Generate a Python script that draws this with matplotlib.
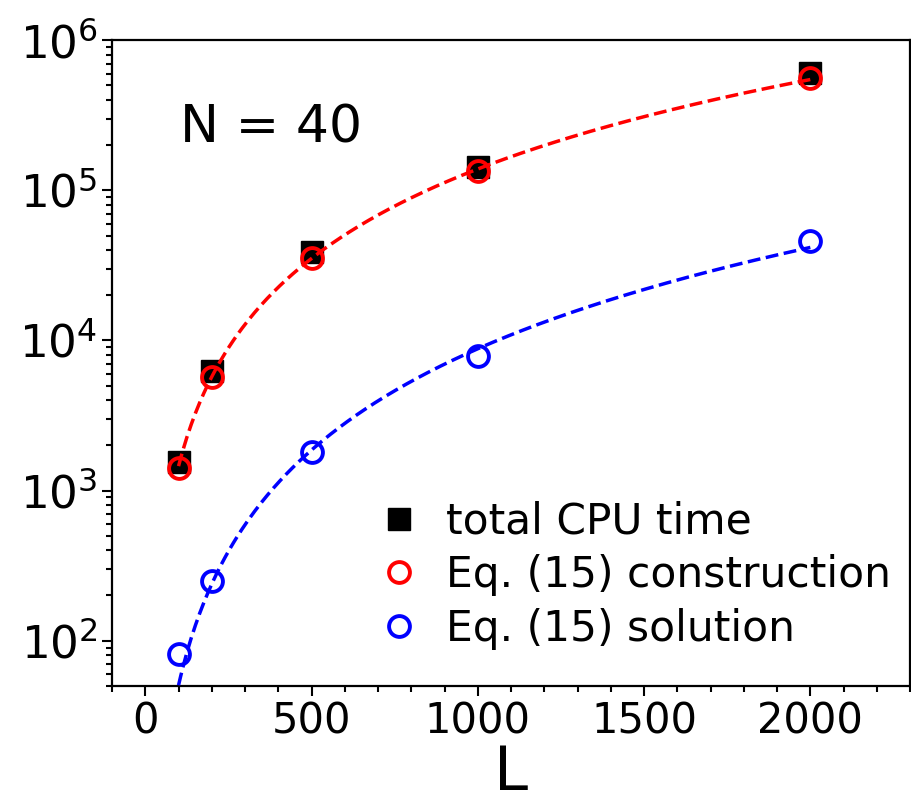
import numpy as np
import matplotlib
matplotlib.use('Agg')
from matplotlib import pyplot as plt
from matplotlib.ticker import MultipleLocator

# valeurs
L = [100, 200, 500, 1000, 2000]
total_cpu = [1560, 6300, 38600, 142000, 603000]
construction = [1420, 5750, 35700, 134000, 558000]
solution = [81, 251, 1820, 7820, 45700]

fig = plt.figure(figsize=(9.11, 8.05), dpi=100)
ax = fig.add_axes([0.123, 0.148, 0.876, 0.802])

ax.plot(L, total_cpu, 's', color='black', markersize=16.5, label='total CPU time', zorder=3)
ax.plot(L, construction, 'o', mfc='none', mec='red', markersize=15, mew=2.8,
        label='Eq. (15) construction', zorder=4)
ax.plot(L, solution, 'o', mfc='none', mec='blue', markersize=15, mew=2.8,
        label='Eq. (15) solution', zorder=4)

# ajustements en loi de puissance (log-log) sur L >= 200
Lfit = np.linspace(100, 2000, 300)
la = np.log10(L[1:])
p_red = np.polyfit(la, np.log10(construction[1:]), 1)
p_blue = np.polyfit(la, np.log10(solution[1:]), 1)
ax.plot(Lfit, 10 ** np.polyval(p_red, np.log10(Lfit)), '--', color='red', lw=2.5, zorder=5)
ax.plot(Lfit, 10 ** np.polyval(p_blue, np.log10(Lfit)), '--', color='blue', lw=2.5, zorder=5)

ax.set_yscale('log')
ax.set_xlim(-100, 2300)
ax.set_ylim(50, 1e6)
ax.xaxis.set_major_locator(MultipleLocator(500))
ax.xaxis.set_minor_locator(MultipleLocator(100))
ax.tick_params(which='both', direction='out', width=1.5, top=False, right=False)
ax.tick_params(axis='x', labelsize=30)
ax.tick_params(axis='y', labelsize=32.5)
ax.tick_params(which='major', length=7)
ax.tick_params(which='minor', length=4)
for s in ax.spines.values():
    s.set_linewidth(1.6)

ax.set_xlabel('L', fontsize=44, labelpad=1)
ax.text(0.085, 0.864, 'N = 40', transform=ax.transAxes, fontsize=37.5, va='center', ha='left')

ax.legend(loc='lower right', bbox_to_anchor=(0.997, 0.03), frameon=False, fontsize=30.5,
          handletextpad=0.6, borderaxespad=0, labelspacing=0.27, handlelength=1.0)

fig.savefig('out.png', dpi=100)
